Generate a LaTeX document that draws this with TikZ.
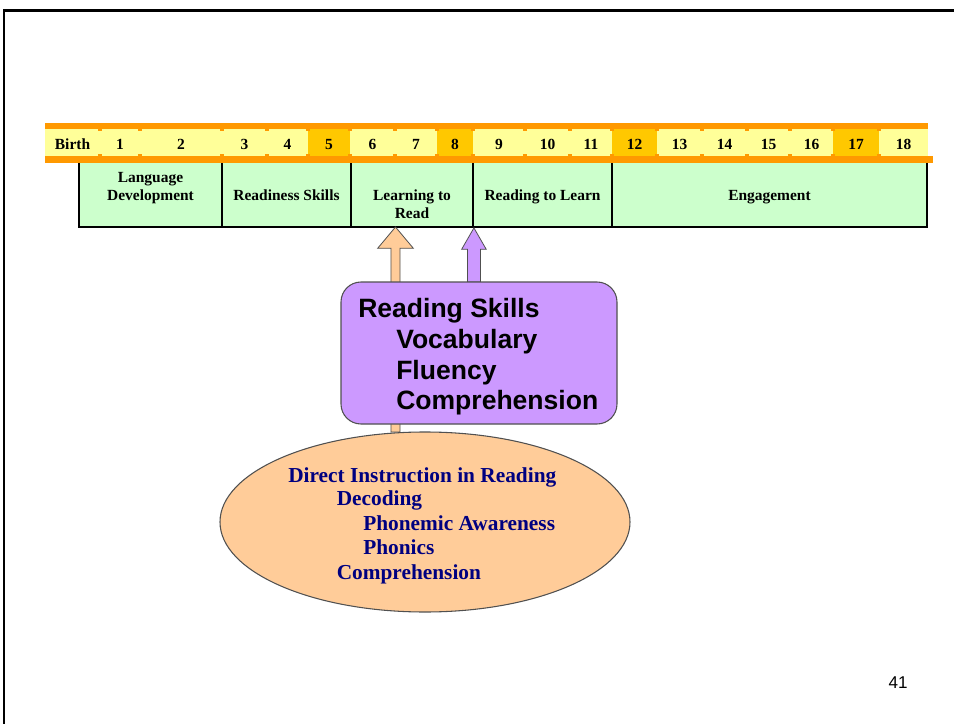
\documentclass[tikz,border=0pt]{standalone}
\usepackage{fontspec}
\setmainfont{Liberation Serif}
\setsansfont{Liberation Sans}
\usetikzlibrary{shapes.geometric,calc}
\definecolor{barorange}{HTML}{FF9900}
\definecolor{baryellow}{HTML}{FFFF99}
\definecolor{barmark}{HTML}{FFC800}
\definecolor{phasegreen}{HTML}{CCFFCC}
\definecolor{skillpurple}{HTML}{CC99FF}
\definecolor{peach}{HTML}{FFCC99}
\definecolor{navytext}{HTML}{000080}
\definecolor{edgegray}{HTML}{505050}

% block arrow from a tail point up to a tip point:
% #1 fill, #2 tail, #3 tip, #4 shaft half width, #5 head half width, #6 head length
\newcommand\blockarrowpath[6]{%
  \draw[blockarrow,fill=#1] let \p1=(#2), \p2=(#3) in
    (\x1-#4,\y1) -- (\x1-#4,\y2-#6) -- (\x1-#5,\y2-#6) -- (\x2,\y2)
    -- (\x1+#5,\y2-#6) -- (\x1+#4,\y2-#6) -- (\x1+#4,\y1) -- cycle;}

\begin{document}
\begin{tikzpicture}[x=0.75pt,y=-0.75pt,
  phase/.style={draw=black, line width=1.4pt, fill=phasegreen, inner sep=0pt, minimum height=50.25pt},
  yearlbl/.style={anchor=base, inner sep=0pt, font=\bfseries\fontsize{11.6}{13}\selectfont},
  phaselbl/.style={anchor=base, inner sep=0pt, font=\bfseries\fontsize{11.6}{13}\selectfont},
  skilltxt/.style={anchor=base west, inner sep=0pt, font=\sffamily\bfseries\fontsize{19.9}{22}\selectfont},
  instrtxt/.style={anchor=base west, inner sep=0pt, text=navytext, font=\bfseries\fontsize{16}{18}\selectfont},
  blockarrow/.style={draw=edgegray, line width=0.6pt}
]
\useasboundingbox (0,0) rectangle (954,724);

% slide frame
\draw[line width=1.9pt, line join=miter] (4,724) -- (4,10.3) -- (954,10.3);

% developmental phases under the age bar
\node[phase, minimum width=107.25pt] (lang)  at (150.5,193.5) {};
\node[phase, minimum width=96.75pt]  (ready) at (286.5,193.5) {};
\node[phase, minimum width=91.5pt]   (lrn)   at (412,193.5) {};
\node[phase, minimum width=104.25pt] (rtl)   at (542.5,193.5) {};
\node[phase, minimum width=236.25pt] (eng)   at (769.5,193.5) {};

\node[phaselbl] (langA) at (150.5,182) {Language};
\node[phaselbl] (langB) at (150.5,200) {Development};
\node[phaselbl] (readyA) at (286.5,200) {Readiness Skills};
\node[phaselbl] (lrnA) at (412,200) {Learning to};
\node[phaselbl] (lrnB) at (412,218.3) {Read};
\node[phaselbl] (rtlA) at (542.5,200) {Reading to Learn};
\node[phaselbl] (engA) at (769.5,200) {Engagement};

% age bar
\fill[barorange] (45,123) rectangle (928,129);
\fill[barorange] (45,156.5) rectangle (933,163);
\foreach \a/\b/\t/\c [count=\i] in {45/100/Birth/baryellow, 100/140/1/baryellow,
    140/222/2/baryellow, 222/267/3/baryellow, 267/308/4/baryellow, 308/350/5/barmark,
    350/395/6/baryellow, 395/437/7/baryellow, 437/473/8/barmark, 473/525/9/baryellow,
    525/570/10/baryellow, 570/612/11/baryellow, 612/657/12/barmark, 657/702/13/baryellow,
    702/747/14/baryellow, 747/790/15/baryellow, 790/833/16/baryellow, 833/879/17/barmark,
    879/928/18/baryellow}
{
  \fill[\c] (\a,129) rectangle (\b,156.5);
  \node[yearlbl] (yr\i) at ({(\a+\b)/2},150) {\t};
}
\foreach \x in {100,140,222,267,308,350,395,437,473,525,570,612,657,702,747,790,833,879}
{
  \fill[barorange] (\x-2,129) rectangle (\x+2,131);
  \fill[barorange] (\x-2,154.5) rectangle (\x+2,156.5);
}

% connectors into the phase boxes
\coordinate (oTip) at (395.5,227);
\blockarrowpath{peach}{oTip |- 0,432}{oTip}{3.4pt}{13.4pt}{16pt}
\blockarrowpath{skillpurple}{lrn.south east |- 0,282}{lrn.south east}{4.9pt}{9.2pt}{16pt}

% reading skills box
\node[draw=edgegray, line width=0.8pt, fill=skillpurple, rounded corners=15pt,
      minimum width=207pt, minimum height=106.5pt, inner sep=0pt] (skills) at (479,353) {};
\node[skilltxt] (sk1) at (358,317) {Reading Skills};
\node[skilltxt] (sk2) at (396,348) {Vocabulary};
\node[skilltxt] (sk3) at (396,379) {Fluency};
\node[skilltxt] (sk4) at (396,409) {Comprehension};

% direct instruction ellipse
\node[ellipse, draw=edgegray, line width=0.8pt, fill=peach, minimum width=307.5pt,
      minimum height=135pt, inner sep=0pt] (dii) at (425,522) {};
\node[instrtxt] (di1) at (288,482) {Direct Instruction in Reading};
\node[instrtxt] (di2) at (336.5,505) {Decoding};
\node[instrtxt] (di3) at (363,530) {Phonemic Awareness};
\node[instrtxt] (di4) at (363,554) {Phonics};
\node[instrtxt] (di5) at (336.5,579) {Comprehension};

% page number
\node[anchor=base, inner sep=0pt, font=\sffamily\fontsize{12.8}{14}\selectfont] (pg) at (898,688) {41};
\end{tikzpicture}
\end{document}
